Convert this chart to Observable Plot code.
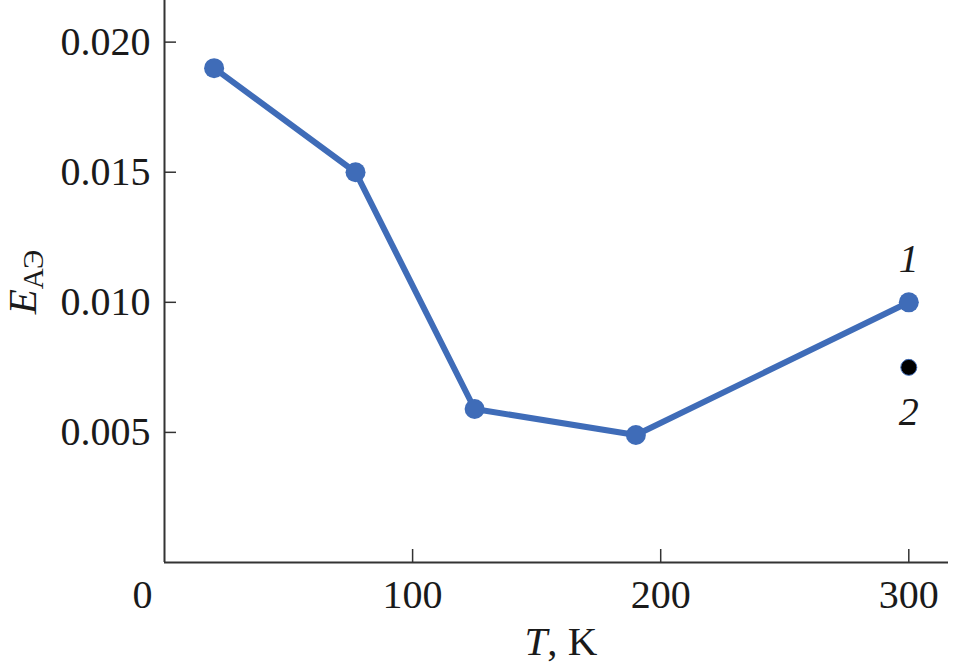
<!DOCTYPE html>
<html>
<head>
<meta charset="utf-8">
<script src="https://cdn.jsdelivr.net/npm/d3@7"></script>
<script src="https://cdn.jsdelivr.net/npm/@observablehq/plot@0.6"></script>
<style>
  html, body { margin: 0; padding: 0; background: #fff; }
  svg { display: block; }
</style>
</head>
<body>
<div id="chart"></div>
<script>
// Series 1: temperature T (K) and E_AE values
const temps1 = [20, 77, 125, 190, 300];
const values1 = [0.019, 0.015, 0.0059, 0.0049, 0.0100];
// Series 2: single point
const temps2 = [300];
const values2 = [0.0075];
// Curve labels
const curveLabels = ["1", "2"];
// Ticks
const xTicks = [100, 200, 300];
const xOriginLabel = [0];
const yTicks = [0.005, 0.010, 0.015, 0.020];

const series1 = temps1.map((t, i) => ({T: t, E: values1[i]}));
const series2 = temps2.map((t, i) => ({T: t, E: values2[i]}));

const blue = "#3F6CB8";
const font = "'Liberation Serif', 'Times New Roman', serif";
const fs = 40;

const plot = Plot.plot({
  width: 953,
  height: 669,
  marginLeft: 164,
  marginRight: 5,
  marginTop: 0,
  marginBottom: 107,
  style: {fontFamily: font, fontSize: fs + "px", color: "#1a1a1a", background: "#fff"},
  x: {domain: [0, 316], label: null},
  y: {domain: [0, 0.0216], label: null},
  marks: [
    Plot.axisX(xTicks, {tickSize: -13, tickPadding: 30, tickFormat: d => String(d), stroke: "#333", strokeWidth: 1.5, fontSize: fs, fill: "#1a1a1a"}),
    Plot.text(xOriginLabel, {x: d => d, y: 0, text: d => String(d), dx: -22, dy: 17, lineAnchor: "top", fontSize: fs, fill: "#1a1a1a"}),
    Plot.axisY(yTicks, {tickSize: -12, tickPadding: 26, tickFormat: d3.format(".3f"), stroke: "#333", strokeWidth: 1.5, fontSize: fs, fill: "#1a1a1a"}),
    Plot.ruleX([0], {stroke: "#333", strokeWidth: 2}),
    Plot.ruleY([0], {stroke: "#333", strokeWidth: 2}),
    Plot.line(series1, {x: "T", y: "E", stroke: blue, strokeWidth: 6}),
    Plot.dot(series1, {x: "T", y: "E", r: 10, fill: blue, stroke: "none"}),
    Plot.dot(series2, {x: "T", y: "E", r: 8, fill: "#000", stroke: blue, strokeWidth: 1}),
    Plot.text([series1[series1.length - 1]], {x: "T", y: "E", text: () => curveLabels[0], dy: -43, fontStyle: "italic", fontSize: fs, fill: "#1a1a1a"}),
    Plot.text(series2, {x: "T", y: "E", text: () => curveLabels[1], dy: 45, fontStyle: "italic", fontSize: fs, fill: "#1a1a1a"})
  ]
});

document.getElementById("chart").appendChild(plot);

// Axis titles with italic symbols and subscript
const svg = d3.select(plot);
const xt = svg.append("text")
  .attr("x", 561).attr("y", 655)
  .attr("text-anchor", "middle")
  .attr("font-family", font).attr("font-size", 41).attr("fill", "#1a1a1a");
xt.append("tspan").attr("font-style", "italic").text("T");
xt.append("tspan").text(", K");

const yt = svg.append("text")
  .attr("transform", "translate(36,282) rotate(-90)")
  .attr("text-anchor", "middle")
  .attr("font-family", font).attr("font-size", 41).attr("fill", "#1a1a1a");
yt.append("tspan").attr("font-style", "italic").text("E");
yt.append("tspan").attr("font-size", 29).attr("dy", 7).text("АЭ");
</script>
</body>
</html>
